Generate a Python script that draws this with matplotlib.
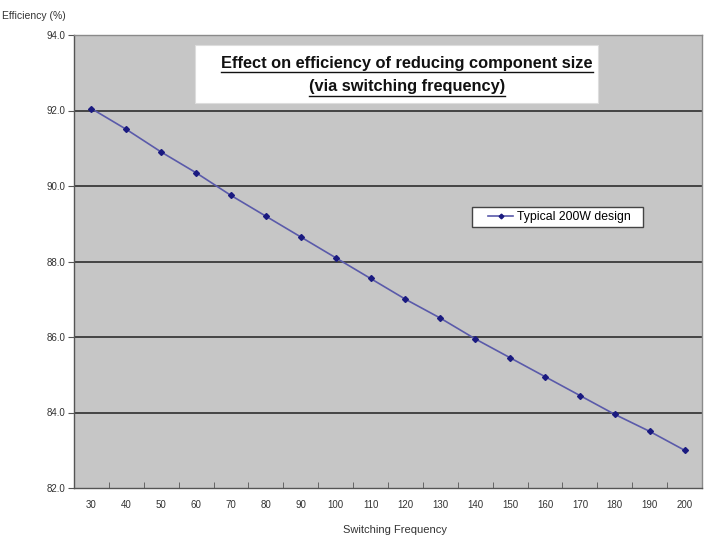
import matplotlib.pyplot as plt
from matplotlib.lines import Line2D
from matplotlib.patches import Rectangle

freq = [30, 40, 50, 60, 70, 80, 90, 100, 110, 120, 130, 140, 150, 160, 170, 180, 190, 200]
efficiency = [92.05, 91.5, 90.9, 90.35, 89.75, 89.2, 88.65, 88.1, 87.55, 87.0,
              86.5, 85.95, 85.45, 84.95, 84.45, 83.95, 83.5, 83.0]
y_ticks = [82.0, 84.0, 86.0, 88.0, 90.0, 92.0, 94.0]

W, H = 708, 538
fig = plt.figure(figsize=(W / 100, H / 100), dpi=100)
plt.rcParams["font.family"] = ["Liberation Sans", "DejaVu Sans"]

# plot area in pixels: x 74..702, y 35..488
ax = fig.add_axes([74 / W, 1 - 488 / H, 628 / W, 453 / H])
ax.set_facecolor("#c6c6c6")

pos = list(range(len(freq)))
ax.plot(pos, efficiency, color="#5a5aaa", lw=1.2, marker="D", ms=3.0,
        mfc="#1a1a80", mec="#1a1a80", label="Typical 200W design", zorder=3)

ax.set_xlim(-0.5, len(freq) - 0.5)
ax.set_ylim(82, 94)
ax.set_yticks(y_ticks)
ax.set_yticklabels([f"{v:.1f}" for v in y_ticks])
ax.set_xticks(pos)
ax.set_xticklabels([str(f) for f in freq])
ax.set_xticks([p + 0.5 for p in pos[:-1]] + [-0.5], minor=True)
ax.tick_params(axis="x", which="major", length=0, pad=9, labelsize=7, labelcolor="#333333")
ax.tick_params(axis="x", which="minor", length=4, direction="in", color="#555555")
ax.tick_params(axis="y", length=4, direction="out", color="#555555", labelsize=7,
               labelcolor="#333333", pad=2)

for v in y_ticks[1:-1]:
    ax.axhline(v, color="#3a3a3a", lw=1.3, zorder=2)
for s in ax.spines.values():
    s.set_color("#8a8a8a")
    s.set_linewidth(1.0)
ax.spines["left"].set_color("#555555")
ax.spines["bottom"].set_color("#555555")

# title box
fig.patches.append(Rectangle((195 / W, 1 - 103 / H), 403 / W, 58 / H,
                             transform=fig.transFigure, facecolor="white",
                             edgecolor="#dddddd", lw=0.8, zorder=5))
t1 = fig.text(407 / W, 1 - 64 / H, "Effect on efficiency of reducing component size",
              ha="center", va="center", fontsize=11.8, fontweight="bold",
              color="#111111", zorder=6)
t2 = fig.text(407 / W, 1 - 87 / H, "(via switching frequency)",
              ha="center", va="center", fontsize=11.8, fontweight="bold",
              color="#111111", zorder=6)

# legend: white frame drawn by hand, contents placed inside
ax.add_patch(Rectangle((472 / W, 1 - 227 / H), 171 / W, 20 / H,
                       transform=fig.transFigure, facecolor="white", clip_on=False,
                       edgecolor="#444444", lw=1.0, zorder=5))
leg = ax.legend(loc="center left", bbox_to_anchor=(488 / W, 1 - 217 / H),
                bbox_transform=fig.transFigure, frameon=False, fontsize=8.8,
                handlelength=2.05, borderpad=0, handletextpad=0.3, borderaxespad=0,
                markerscale=0.8)
leg.set_zorder(6)

fig.text(2 / W, 1 - 16 / H, "Efficiency (%)", fontsize=7.5, color="#333333", va="center")
fig.text(395 / W, 1 - 530 / H, "Switching Frequency", fontsize=8, color="#333333",
         ha="center", va="center")

# underline the title lines
fig.canvas.draw()
r = fig.canvas.get_renderer()
for t in (t1, t2):
    bb = t.get_window_extent(r)
    y = bb.y0 - 1
    fig.lines.append(Line2D([bb.x0 / W, bb.x1 / W], [y / H, y / H],
                            transform=fig.transFigure, color="#111111", lw=1.0, zorder=6))

fig.savefig("out.png", dpi=100)
